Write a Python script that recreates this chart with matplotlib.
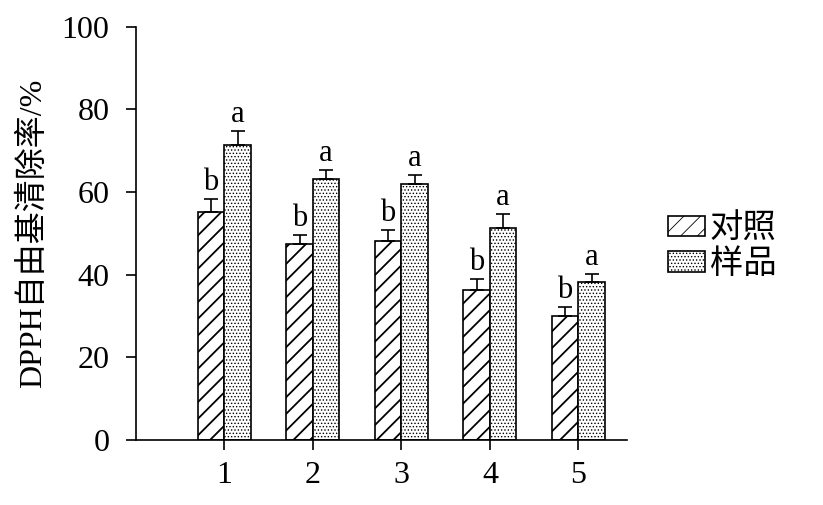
import matplotlib.pyplot as plt
import numpy as np

plt.rcParams['font.family'] = ['Liberation Serif', 'Noto Sans CJK SC']

groups = ['1', '2', '3', '4', '5']
control = [55.2, 47.5, 48.2, 36.3, 30.0]
control_err = [3.2, 2.1, 2.6, 2.7, 2.2]
sample = [71.4, 63.2, 62.0, 51.3, 38.3]
sample_err = [3.4, 2.2, 2.2, 3.4, 1.9]
control_letters = ['b', 'b', 'b', 'b', 'b']
sample_letters = ['a', 'a', 'a', 'a', 'a']

fig = plt.figure(figsize=(8.23, 5.05), dpi=100)
ax = fig.add_axes([0.165, 0.129, 0.597, 0.818])

x = np.arange(1, len(groups) + 1)
w = 0.3

plt.rcParams['hatch.linewidth'] = 1.3
b1 = ax.bar(x - w / 2, control, w, color='white', edgecolor='black',
            linewidth=1.2, hatch='//', label='对照')
plt.rcParams['hatch.linewidth'] = 0.6
b2 = ax.bar(x + w / 2, sample, w, color='white', edgecolor='black',
            linewidth=1.2, hatch='.....', label='样品')
# keep the thin dots even if hatch width is read per patch
for p in b1:
    if hasattr(p, 'set_hatch_linewidth'):
        p.set_hatch_linewidth(1.3)
for p in b2:
    if hasattr(p, 'set_hatch_linewidth'):
        p.set_hatch_linewidth(0.6)

ax.errorbar(x - w / 2, control, yerr=[np.zeros(5), control_err], fmt='none',
            ecolor='black', elinewidth=1.2, capsize=5, capthick=1.2)
ax.errorbar(x + w / 2, sample, yerr=[np.zeros(5), sample_err], fmt='none',
            ecolor='black', elinewidth=1.2, capsize=5, capthick=1.2)

for i in range(len(groups)):
    ax.text(x[i] - w / 2, control[i] + control_err[i] + 0.4, control_letters[i],
            ha='center', va='bottom', fontsize=22)
    ax.text(x[i] + w / 2, sample[i] + sample_err[i] + 0.4, sample_letters[i],
            ha='center', va='bottom', fontsize=22)

ax.set_xlim(0, 5.55)
ax.set_ylim(0, 100)
ax.set_xticks(x)
ax.set_xticklabels(groups)
ax.set_yticks(np.arange(0, 101, 20))
ax.tick_params(labelsize=23, width=1.2, length=7, direction='out')
ax.tick_params(axis='y', pad=12)
ax.tick_params(axis='x', pad=8)
ax.spines['top'].set_visible(False)
ax.spines['right'].set_visible(False)
ax.spines['left'].set_linewidth(1.2)
ax.spines['bottom'].set_linewidth(1.2)

ax.set_ylabel('DPPH自由基清除率/%', fontsize=23, labelpad=10)

leg = fig.legend(handles=[b1, b2], loc='center left', bbox_to_anchor=(0.812, 0.511),
                 frameon=False, fontsize=24, handlelength=1.1, handleheight=0.55,
                 handletextpad=0.15, labelspacing=0.15, borderpad=0, borderaxespad=0)

fig.savefig('out.png', dpi=100)
